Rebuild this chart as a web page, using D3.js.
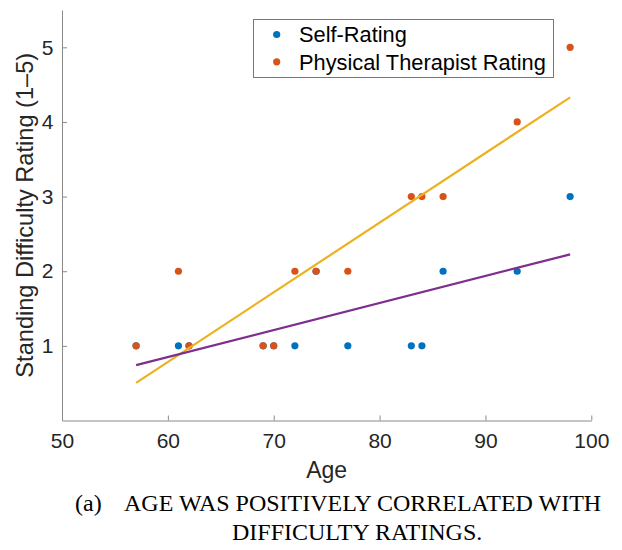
<!DOCTYPE html>
<html>
<head>
<meta charset="utf-8">
<script src="https://cdn.jsdelivr.net/npm/d3@7/dist/d3.min.js"></script>
<style>
  html, body { margin: 0; padding: 0; background: #fff; }
  svg { display: block; }
  .tick text { font-family: "Liberation Sans", Arial, Helvetica, sans-serif; fill: #262626; }
</style>
</head>
<body>
<script>
// Ages and standing difficulty ratings (1-5)
const selfAges    = [57, 61, 62, 69, 70, 72, 74, 77, 83, 84, 86, 93, 98];
const selfRatings = [1, 1, 1, 1, 1, 1, 2, 1, 1, 1, 2, 2, 3];
const ptAges      = [57, 61, 62, 69, 70, 72, 74, 77, 83, 84, 86, 93, 98];
const ptRatings   = [1, 2, 1, 1, 1, 2, 2, 2, 3, 3, 3, 4, 5];

// Least-squares fit lines, as endpoint pairs [age, rating]
const selfFit = [[57, 0.742], [98, 2.226]];
const ptFit   = [[57, 0.505], [98, 4.33]];

const seriesNames = ["Self-Rating", "Physical Therapist Rating"];
const xTicks = [50, 60, 70, 80, 90, 100];
const yTicks = [1, 2, 3, 4, 5];

const colors = { self: "#0072BD", pt: "#D95319", selfFit: "#7E2F8E", ptFit: "#EDB120" };

const W = 622, H = 550;
const svg = d3.select("body").append("svg").attr("width", W).attr("height", H);

const x = d3.scaleLinear().domain([50, 100]).range([62, 591.3]);
const y = d3.scaleLinear().domain([0, 5.5]).range([420.5, 10]);

// Axes (ticks point inward, no box)
const xAxis = svg.append("g")
  .attr("transform", `translate(0,${y(0)})`)
  .call(d3.axisBottom(x).tickValues(xTicks).tickFormat(d3.format("d"))
    .tickSizeInner(-5).tickSizeOuter(0).tickPadding(13));
const yAxis = svg.append("g")
  .attr("transform", `translate(${x(50)},0)`)
  .call(d3.axisLeft(y).tickValues(yTicks).tickFormat(d3.format("d"))
    .tickSizeInner(-5).tickSizeOuter(0).tickPadding(8.5));

[xAxis, yAxis].forEach(g => {
  g.select(".domain").attr("stroke", "#8a8a8a").attr("stroke-width", 1);
  g.selectAll(".tick line").attr("stroke", "#8a8a8a");
  g.selectAll(".tick text").style("font-size", "21px");
});

// Scatter points
function drawPoints(ages, ratings, color) {
  svg.append("g").selectAll("circle")
    .data(ages.map((a, i) => [a, ratings[i]]))
    .join("circle")
    .attr("cx", d => x(d[0]))
    .attr("cy", d => y(d[1]))
    .attr("r", 3.6)
    .attr("fill", color);
}
drawPoints(selfAges, selfRatings, colors.self);
drawPoints(ptAges, ptRatings, colors.pt);

// Fit lines
const line = d3.line().x(d => x(d[0])).y(d => y(d[1]));
svg.append("path").datum(ptFit).attr("d", line)
  .attr("fill", "none").attr("stroke", colors.ptFit).attr("stroke-width", 2.2);
svg.append("path").datum(selfFit).attr("d", line)
  .attr("fill", "none").attr("stroke", colors.selfFit).attr("stroke-width", 2.2);

// Axis titles
svg.append("text")
  .attr("x", (x(50) + x(100)) / 2).attr("y", 478)
  .attr("text-anchor", "middle")
  .style("font-family", "'Liberation Sans', Arial, Helvetica, sans-serif")
  .style("font-size", "23px").attr("fill", "#262626")
  .text("Age");

svg.append("text")
  .attr("transform", `translate(33,${(y(0) + y(5.5)) / 2}) rotate(-90)`)
  .attr("text-anchor", "middle")
  .style("font-family", "'Liberation Sans', Arial, Helvetica, sans-serif")
  .style("font-size", "23.6px").attr("fill", "#262626")
  .text("Standing Difficulty Rating (1–5)");

// Legend
const legend = svg.append("g");
legend.append("rect")
  .attr("x", 253.5).attr("y", 19.5).attr("width", 300).attr("height", 58)
  .attr("fill", "#fff").attr("stroke", "#777").attr("stroke-width", 1);
const legendColors = [colors.self, colors.pt];
seriesNames.forEach((name, i) => {
  const cy = 34.5 + i * 27.3;
  legend.append("circle").attr("cx", 276.7).attr("cy", cy).attr("r", 3.6).attr("fill", legendColors[i]);
  legend.append("text")
    .attr("x", 299).attr("y", cy).attr("dy", "0.36em")
    .style("font-family", "'Liberation Sans', Arial, Helvetica, sans-serif")
    .style("font-size", "21.8px").attr("fill", "#000")
    .text(name);
});

// Caption
const cap = svg.append("g")
  .style("font-family", "'Liberation Serif', 'Times New Roman', serif")
  .style("font-size", "24px").attr("fill", "#000");
cap.append("text").attr("x", 75).attr("y", 511).text("(a)");
cap.append("text").attr("x", 124).attr("y", 511).text("AGE WAS POSITIVELY CORRELATED WITH");
cap.append("text").attr("x", 232).attr("y", 539.5).text("DIFFICULTY RATINGS.");
</script>
</body>
</html>
